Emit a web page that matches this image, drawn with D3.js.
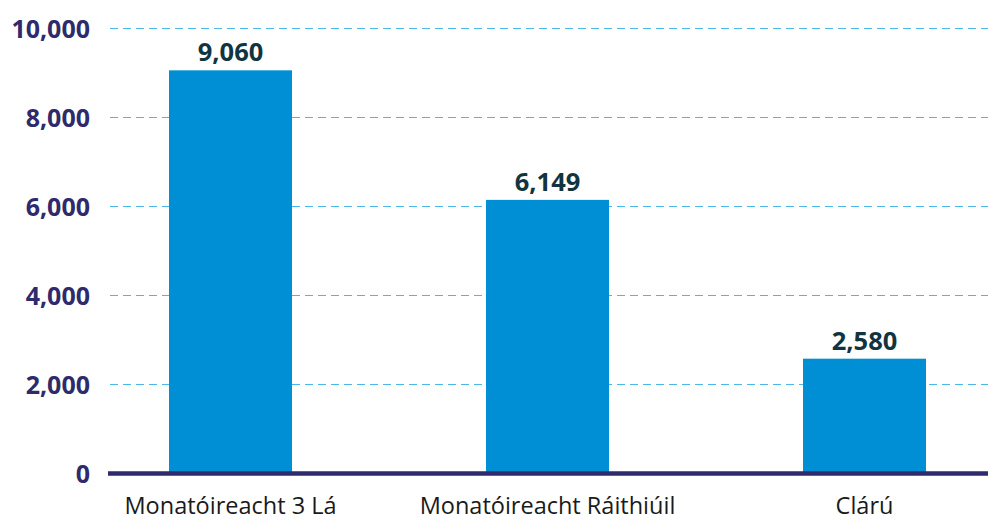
<!DOCTYPE html>
<html>
<head>
<meta charset="utf-8">
<script src="https://cdn.jsdelivr.net/npm/d3@7"></script>
<style>
  html, body { margin: 0; padding: 0; background: #fff; }
  svg { display: block; font-family: "Open Sans", sans-serif; }
  .tick-label { font-weight: 700; font-size: 25px; fill: #2e2a6b; }
  .value-label { font-weight: 700; font-size: 25.5px; fill: #12343f; }
  .cat-label { font-size: 23.5px; fill: #1a1a1a; }
</style>
</head>
<body>
<div id="chart"></div>
<script>
// categories + values (labels)
const categories = ['Monatóireacht 3 Lá', 'Monatóireacht Ráithiúil', 'Clárú'];
const values = [9060, 6149, 2580];
const yTicks = [0, 2000, 4000, 6000, 8000, 10000];

const width = 988, height = 520;

const svg = d3.select('#chart').append('svg')
    .attr('width', width)
    .attr('height', height);

const x = d3.scaleBand()
    .domain(categories)
    .range([72, 1023])
    .paddingInner(0.612)
    .paddingOuter(0.306);

const y = d3.scaleLinear()
    .domain([0, 10000])
    .range([473.5, 28.5]);

const fmt = d3.format(',');

// dashed grid lines
svg.append('g')
    .selectAll('line')
    .data(yTicks.filter(d => d > 0))
    .join('line')
    .attr('x1', 110)
    .attr('x2', width)
    .attr('y1', d => y(d))
    .attr('y2', d => y(d))
    .attr('stroke', '#4db6e8')
    .attr('stroke-width', 1.2)
    .attr('stroke-dasharray', '8,5');

// y tick labels
svg.append('g')
    .selectAll('text')
    .data(yTicks)
    .join('text')
    .attr('class', 'tick-label')
    .attr('x', 90)
    .attr('y', d => y(d))
    .attr('dy', '0.36em')
    .attr('text-anchor', 'end')
    .text(d => fmt(d));

// bars
svg.append('g')
    .selectAll('rect')
    .data(values)
    .join('rect')
    .attr('x', (d, i) => x(categories[i]))
    .attr('width', x.bandwidth())
    .attr('y', d => y(d))
    .attr('height', d => y(0) - y(d))
    .attr('fill', '#008fd5');

// value labels
svg.append('g')
    .selectAll('text')
    .data(values)
    .join('text')
    .attr('class', 'value-label')
    .attr('x', (d, i) => x(categories[i]) + x.bandwidth() / 2)
    .attr('y', d => y(d) - 9)
    .attr('text-anchor', 'middle')
    .text(d => fmt(d));

// baseline
svg.append('line')
    .attr('x1', 108)
    .attr('x2', width)
    .attr('y1', y(0))
    .attr('y2', y(0))
    .attr('stroke', '#2e2a6b')
    .attr('stroke-width', 4.5);

// category labels
svg.append('g')
    .selectAll('text')
    .data(categories)
    .join('text')
    .attr('class', 'cat-label')
    .attr('x', d => x(d) + x.bandwidth() / 2)
    .attr('y', 514)
    .attr('text-anchor', 'middle')
    .text(d => d);
</script>
</body>
</html>
